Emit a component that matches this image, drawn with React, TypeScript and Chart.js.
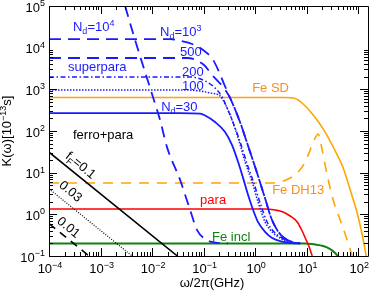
import React, { useEffect, useRef } from 'react';
import { Chart, registerables } from 'chart.js';

Chart.register(...registerables);

const FONT = '"Liberation Sans", Arial, Helvetica, sans-serif';
const BLUE = '#1a1aff';
const ORANGE = '#ffa500';
const ORANGE_TXT = '#f7901e';
const RED = '#ff0000';
const GREEN = '#118011';
const BLACK = '#000000';

const X_MIN = 1e-4;
const X_MAX = 155;
const Y_MIN = 0.1;
const Y_MAX = 1e5;
const xDecades = [-4, -3, -2, -1, 0, 1, 2];
const yDecades = [-1, 0, 1, 2, 3, 4, 5];

// N_d = 30 (superpara, solid)
const nd30W = [1e-4, 0.035, 0.0855, 0.107, 0.167, 0.261, 0.357, 0.468, 0.585, 0.731, 0.914, 1.14, 1.56, 2.14, 3.34, 5.2, 7.5];
const nd30K = [270, 270, 262, 235, 164, 95, 46, 18, 7.4, 2.9, 1.27, 0.65, 0.38, 0.27, 0.22, 0.205, 0.2];
// N_d = 100 (dotted)
const nd100W = [1e-4, 0.0438, 0.0855, 0.134, 0.209, 0.261, 0.327, 0.468, 0.64, 0.875, 1.14, 1.56, 2.14, 3.06, 4.37, 7.5];
const nd100K = [964, 964, 912, 817, 692, 445, 242, 68, 18, 5.97, 1.98, 0.655, 0.377, 0.27, 0.217, 0.2];
// N_d = 200 (dash-dot)
const nd200W = [1e-4, 0.0547, 0.107, 0.167, 0.229, 0.286, 0.357, 0.512, 0.7, 0.957, 1.25, 1.71, 2.34, 3.34, 4.79, 7.5];
const nd200K = [1980, 1980, 1585, 1076, 655, 356, 184, 54.5, 16.1, 5.35, 1.87, 0.655, 0.377, 0.27, 0.217, 0.2];
// N_d = 500 (dashed)
const nd500W = [1e-4, 0.0479, 0.102, 0.146, 0.239, 0.327, 0.428, 0.535, 0.668, 0.836, 1.045, 1.31, 1.64, 2.05, 2.67, 3.66, 5.22, 7.5];
const nd500K = [5650, 5650, 3840, 2210, 1138, 619, 286, 139, 60.8, 26.5, 11.6, 4.79, 1.98, 0.817, 0.421, 0.27, 0.217, 0.2];
// N_d = 10^3 (dashed)
const nd1000W = [1e-4, 0.0224, 0.0366, 0.0598, 0.0977, 0.153, 0.2, 0.25, 0.327, 0.428, 0.535, 0.668, 0.836, 1.045, 1.31, 1.64, 2.05, 2.67, 3.66, 5.22, 7.5];
const nd1000K = [16100, 16100, 14450, 12240, 8790, 5060, 2600, 1340, 619, 286, 139, 60.8, 26.5, 11.6, 4.79, 1.98, 0.817, 0.421, 0.27, 0.217, 0.2];
// N_d = 10^4 (long dashes)
const nd1e4W = [3.0e-3, 4.68e-3, 0.0104, 0.0143, 0.0195, 0.035, 0.0547, 0.0748, 0.107, 0.146, 0.3];
const nd1e4K = [1e5, 15280, 655, 184, 41, 6.7, 1.27, 0.42, 0.256, 0.217, 0.2];
// ferro+para, f_F = 0.1 / 0.03 / 0.01
const ff01W = [1e-4, 0.031];
const ff01K = [31, 0.1];
const ff003W = [1e-4, 4.1e-3];
const ff003K = [4.1, 0.1];
const ff001W = [1e-4, 6e-4];
const ff001K = [0.6, 0.1];
// Fe SD
const feSdW = [1e-4, 3.83, 5.98, 8.55, 13.4, 20.9, 32.7, 51.2, 70.0, 95.7, 120, 143];
const feSdK = [637, 637, 603, 445, 242, 112, 41.3, 12.9, 3.84, 1.08, 0.319, 0.1];
// Fe DH13
const feDhW = [1e-4, 1.95, 3.06, 4.79, 6.84, 9.35, 11.7, 14.6, 16.7, 20.0, 25.0, 32.7, 44.7, 61.1, 76.4];
const feDhK = [5.65, 5.65, 5.97, 7.45, 10.4, 18.0, 35, 67.9, 84.7, 35, 8.79, 2.21, 0.731, 0.242, 0.1];
// para
const paraW = [1e-4, 1.56, 2.44, 3.5, 4.79, 6.55, 8.18, 9.78, 11.2, 12.8];
const paraK = [1.34, 1.34, 1.27, 1.14, 0.912, 0.655, 0.398, 0.242, 0.164, 0.1];
// Fe incl
const feInclW = [1e-4, 9.35, 14.6, 20.9, 28.6, 35.7, 40.9];
const feInclK = [0.2, 0.2, 0.189, 0.174, 0.147, 0.118, 0.097];

type Seg = { t: string; k?: 'sup' | 'sub' };
type Lbl = { segs: Seg[]; w: number; K: number; color: string; rot?: number };

const labels: Lbl[] = [
  { segs: [{ t: 'N' }, { t: 'd', k: 'sub' }, { t: '=10' }, { t: '4', k: 'sup' }], w: 2.92e-4, K: 25100, color: BLUE },
  { segs: [{ t: 'N' }, { t: 'd', k: 'sub' }, { t: '=10' }, { t: '3', k: 'sup' }], w: 0.0143, K: 19050, color: BLUE },
  { segs: [{ t: '500' }], w: 0.035, K: 6310, color: BLUE },
  { segs: [{ t: '200' }], w: 0.0383, K: 2090, color: BLUE },
  { segs: [{ t: '100' }], w: 0.0383, K: 964, color: BLUE },
  { segs: [{ t: 'N' }, { t: 'd', k: 'sub' }, { t: '=30' }], w: 0.015, K: 302, color: BLUE },
  { segs: [{ t: 'superpara' }], w: 2.34e-4, K: 2754, color: BLUE },
  { segs: [{ t: 'ferro+para' }], w: 2.92e-4, K: 64.3, color: BLACK },
  { segs: [{ t: 'Fe SD' }], w: 0.875, K: 863, color: ORANGE_TXT },
  { segs: [{ t: 'Fe DH13' }], w: 2.14, K: 3.08, color: ORANGE_TXT },
  { segs: [{ t: 'para' }], w: 0.0855, K: 1.77, color: RED },
  { segs: [{ t: 'Fe incl' }], w: 0.146, K: 0.229, color: GREEN },
  { segs: [{ t: 'f' }, { t: 'F', k: 'sub' }, { t: '=0.1' }], w: 4.18e-4, K: 15.3, color: BLACK, rot: 39 },
  { segs: [{ t: '0.03' }], w: 2.67e-4, K: 3.63, color: BLACK, rot: 39 },
  { segs: [{ t: '0.01' }], w: 2.44e-4, K: 0.497, color: BLACK, rot: 39 },
];

const SUP: Record<string, string> = { '-': '\u2212' };

function segFont(size: number, k?: string) {
  return `${k ? Math.round(size * 0.7) : size}px ${FONT}`;
}
function richWidth(ctx: CanvasRenderingContext2D, segs: Seg[], size: number) {
  let w = 0;
  for (const s of segs) {
    ctx.font = segFont(size, s.k);
    w += ctx.measureText(s.t).width;
  }
  return w;
}
function drawRich(ctx: CanvasRenderingContext2D, segs: Seg[], x: number, y: number, size: number, align: 'left' | 'center' | 'right') {
  const w = richWidth(ctx, segs, size);
  let cx = align === 'left' ? x : align === 'center' ? x - w / 2 : x - w;
  ctx.textAlign = 'left';
  ctx.textBaseline = 'alphabetic';
  for (const s of segs) {
    ctx.font = segFont(size, s.k);
    const dy = s.k === 'sup' ? -size * 0.42 : s.k === 'sub' ? size * 0.24 : 0;
    ctx.fillText(s.t, cx, y + dy);
    cx += ctx.measureText(s.t).width;
  }
}
function expSegs(e: number): Seg[] {
  const s = String(e).split('').map((c) => SUP[c] || c).join('');
  return [{ t: '10' }, { t: s, k: 'sup' }];
}

const pts = (w: number[], k: number[]) => w.map((x, i) => ({ x, y: k[i] }));

function ds(label: string, w: number[], k: number[], color: string, width: number, dash: number[] = []) {
  return {
    label,
    data: pts(w, k),
    borderColor: color,
    backgroundColor: color,
    borderWidth: width,
    borderDash: dash,
    pointRadius: 0,
    fill: false,
    cubicInterpolationMode: 'monotone' as const,
  };
}

const framePlugin = {
  id: 'frame',
  beforeDraw(chart: any) {
    const ctx = chart.ctx as CanvasRenderingContext2D;
    ctx.save();
    ctx.fillStyle = '#ffffff';
    ctx.fillRect(0, 0, chart.width, chart.height);
    ctx.restore();
  },
  afterDraw(chart: any) {
    const ctx = chart.ctx as CanvasRenderingContext2D;
    const a = chart.chartArea;
    const xs = chart.scales.x;
    const ys = chart.scales.y;
    ctx.save();
    ctx.strokeStyle = BLACK;
    ctx.lineWidth = 1;
    ctx.beginPath();
    ctx.rect(Math.round(a.left) + 0.5, Math.round(a.top) + 0.5, Math.round(a.right - a.left), Math.round(a.bottom - a.top));
    ctx.stroke();

    // ticks
    ctx.beginPath();
    for (let d = -5; d <= 3; d++) {
      for (let m = 1; m <= 9; m++) {
        const v = m * Math.pow(10, d);
        if (v >= X_MIN * 0.999 && v <= X_MAX) {
          const px = Math.round(xs.getPixelForValue(v)) + 0.5;
          const len = m === 1 ? 8 : 4;
          ctx.moveTo(px, a.bottom);
          ctx.lineTo(px, a.bottom - len);
          ctx.moveTo(px, a.top);
          ctx.lineTo(px, a.top + len);
        }
        if (v >= Y_MIN * 0.999 && v <= Y_MAX * 1.001) {
          const py = Math.round(ys.getPixelForValue(v)) + 0.5;
          const len = m === 1 ? 8 : 4;
          ctx.moveTo(a.left, py);
          ctx.lineTo(a.left + len, py);
          ctx.moveTo(a.right, py);
          ctx.lineTo(a.right - len, py);
        }
      }
    }
    ctx.stroke();

    // tick labels
    ctx.fillStyle = BLACK;
    for (const e of xDecades) {
      const px = xs.getPixelForValue(Math.pow(10, e));
      drawRich(ctx, expSegs(e), px + 1, a.bottom + 17, 13, 'center');
    }
    for (const e of yDecades) {
      const py = ys.getPixelForValue(Math.pow(10, e));
      drawRich(ctx, expSegs(e), a.left - 4, py + 5.5, 13, 'right');
    }

    // axis titles
    drawRich(ctx, [{ t: 'ω/2π(GHz)' }], 212, 287, 13, 'center');
    ctx.save();
    ctx.translate(11, (a.top + a.bottom) / 2);
    ctx.rotate(-Math.PI / 2);
    drawRich(ctx, [{ t: 'K(ω)[10' }, { t: '\u221213', k: 'sup' }, { t: 's]' }], 0, 0, 13, 'center');
    ctx.restore();

    // curve labels
    for (const l of labels) {
      const px = xs.getPixelForValue(l.w);
      const py = ys.getPixelForValue(l.K);
      ctx.fillStyle = l.color;
      if (l.rot) {
        ctx.save();
        ctx.translate(px, py);
        ctx.rotate((l.rot * Math.PI) / 180);
        drawRich(ctx, l.segs, 0, 4.5, 13, 'center');
        ctx.restore();
      } else {
        drawRich(ctx, l.segs, px, py, 13, 'left');
      }
    }
    ctx.restore();
  },
};

export default function App() {
  const ref = useRef<HTMLCanvasElement | null>(null);
  useEffect(() => {
    if (!ref.current) return;
    const chart = new Chart(ref.current, {
      type: 'line',
      data: {
        datasets: [
          ds('Nd=30', nd30W, nd30K, BLUE, 1.8),
          ds('Nd=100', nd100W, nd100K, BLUE, 1.5, [1.5, 1.5]),
          ds('Nd=200', nd200W, nd200K, BLUE, 1.5, [5, 2.5, 1.5, 2.5]),
          ds('Nd=500', nd500W, nd500K, BLUE, 1.8, [12, 7]),
          ds('Nd=1000', nd1000W, nd1000K, BLUE, 1.8, [12, 7]),
          ds('Nd=10000', nd1e4W, nd1e4K, BLUE, 1.8, [11, 7]),
          ds('fF=0.1', ff01W, ff01K, BLACK, 1.6),
          ds('fF=0.03', ff003W, ff003K, BLACK, 1.2, [1, 1.5]),
          ds('fF=0.01', ff001W, ff001K, BLACK, 1.6, [8, 6]),
          ds('Fe SD', feSdW, feSdK, ORANGE, 1.6),
          ds('Fe DH13', feDhW, feDhK, ORANGE, 1.6, [10, 8]),
          ds('para', paraW, paraK, RED, 1.6),
          ds('Fe incl', feInclW, feInclK, GREEN, 2),
        ],
      },
      options: {
        responsive: false,
        animation: false,
        events: [],
        layout: { padding: { left: 49, top: 6, right: 6, bottom: 34 } },
        plugins: { legend: { display: false }, tooltip: { enabled: false } },
        scales: {
          x: { type: 'logarithmic', min: X_MIN, max: X_MAX, display: false },
          y: { type: 'logarithmic', min: Y_MIN, max: Y_MAX, display: false },
        },
      },
      plugins: [framePlugin],
    });
    return () => chart.destroy();
  }, []);
  return (
    <div style={{ position: 'fixed', left: 0, top: 0, width: 374, height: 290 }}>
      <canvas ref={ref} width={374} height={290} style={{ display: 'block' }} />
    </div>
  );
}
